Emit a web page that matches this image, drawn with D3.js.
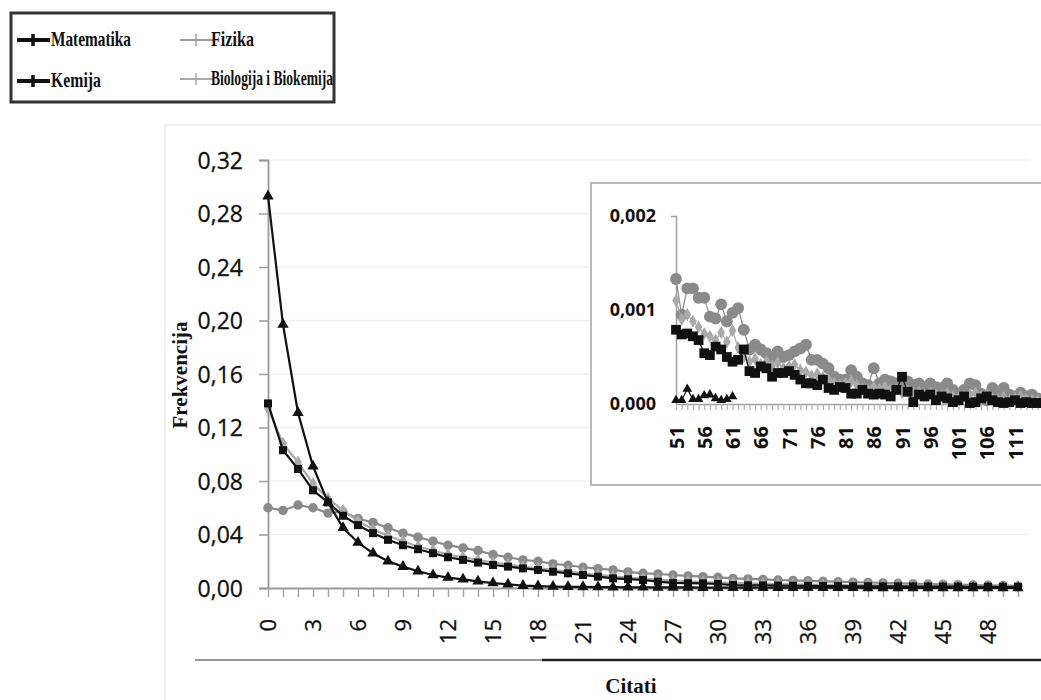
<!DOCTYPE html>
<html><head><meta charset="utf-8">
<script src="https://cdn.jsdelivr.net/npm/d3@7"></script>
<style>body{margin:0;background:#fff}svg{display:block}</style>
</head><body>
<svg id="c" width="1041" height="700"></svg>
<script>
// ---------- DATA ----------
const seriesNames = ["Matematika", "Fizika", "Kemija", "Biologija i Biokemija"];

const citations = [0,1,2,3,4,5,6,7,8,9,10,11,12,13,14,15,16,17,18,19,20,21,22,23,24,25,26,27,28,29,30,31,32,33,34,35,36,37,38,39,40,41,42,43,44,45,46,47,48,49,50];

const matematika = [0.293,0.197,0.131,0.091,0.064,0.045,0.034,0.026,0.020,0.016,
  0.0125,0.0097,0.0078,0.0065,0.005,0.0037,0.0028,0.0018,0.0014,0.0011,
  0.0009,0.0008,0.0007,0.0006,0.0005,0.0005,0.0004,0.0004,0.0004,0.0003,
  0.0003,0.0003,0.0003,0.0002,0.0002,0.0002,0.0002,0.0002,0.0002,0.0002,
  0.0001,0.0001,0.0001,0.0001,0.0001,0.0001,0.0001,0.0001,0.0001,0.0001,0.0001];

const fizika = [0.060,0.058,0.062,0.060,0.056,0.057,0.052,0.049,0.045,0.041,
  0.038,0.035,0.032,0.030,0.028,0.025,0.023,0.021,0.020,0.018,
  0.017,0.0155,0.0145,0.0135,0.012,0.011,0.0105,0.0097,0.009,0.0085,
  0.008,0.0072,0.0068,0.0064,0.006,0.0057,0.0054,0.005,0.0047,0.0044,
  0.0041,0.0038,0.0035,0.0032,0.003,0.0028,0.0025,0.0022,0.002,0.0018,0.0016];

const kemija = [0.138,0.103,0.089,0.073,0.064,0.054,0.047,0.041,0.036,0.032,
  0.029,0.026,0.023,0.021,0.019,0.0172,0.016,0.0147,0.0135,0.0122,
  0.011,0.0097,0.0085,0.0072,0.0066,0.006,0.0048,0.0038,0.0036,0.0035,
  0.003,0.0022,0.002,0.0019,0.0018,0.0017,0.0016,0.0015,0.0014,0.0013,
  0.0013,0.0012,0.0012,0.0011,0.0011,0.001,0.001,0.0009,0.0009,0.0008,0.0008];

const biologija = [0.134,0.108,0.094,0.078,0.067,0.058,0.050,0.044,0.039,0.035,
  0.031,0.028,0.025,0.023,0.021,0.019,0.0175,0.016,0.0148,0.0135,
  0.0122,0.011,0.0098,0.0087,0.0078,0.007,0.0063,0.0056,0.005,0.0045,
  0.0041,0.0038,0.0035,0.0032,0.003,0.0028,0.0026,0.0024,0.0023,0.0022,
  0.0021,0.002,0.0019,0.0018,0.0017,0.0016,0.0015,0.0014,0.0013,0.0012,0.0012];

const yTickValues = [0,0.04,0.08,0.12,0.16,0.20,0.24,0.28,0.32];
const yTickLabels = ["0,00","0,04","0,08","0,12","0,16","0,20","0,24","0,28","0,32"];
const xTickLabels = [0,3,6,9,12,15,18,21,24,27,30,33,36,39,42,45,48];

// inset (tail 51 - 116)
const insetCitations = [51,52,53,54,55,56,57,58,59,60,61,62,63,64,65,66,67,68,69,70,
  71,72,73,74,75,76,77,78,79,80,81,82,83,84,85,86,87,88,89,90,
  91,92,93,94,95,96,97,98,99,100,101,102,103,104,105,106,107,108,109,110,
  111,112,113,114,115,116];

const insetMatematika = [0.00004,0.00004,0.00016,0.00005,0.00005,0.00009,0.00010,0.00006,0.00004,0.00005,0.00008];

const insetFizika = [0.00133,0.00095,0.00123,0.00123,0.00113,0.00113,0.00093,0.00091,0.00106,0.00088,
  0.00097,0.00102,0.00079,0.00058,0.00063,0.00058,0.00054,0.00050,0.00056,0.00050,
  0.00052,0.00056,0.00059,0.00063,0.00047,0.00047,0.00043,0.00038,0.00029,0.00026,
  0.00026,0.00036,0.00029,0.00022,0.00020,0.00038,0.00022,0.00026,0.00024,0.00022,
  0.00018,0.00024,0.00020,0.00022,0.00018,0.00022,0.00018,0.00017,0.00022,0.00015,
  0.00011,0.00015,0.00022,0.00020,0.00011,0.00004,0.00017,0.00011,0.00017,0.00010,
  0.00008,0.00012,0.00008,0.00010,0.00006,0.00005];

const insetKemija = [0.00079,0.00074,0.00075,0.00072,0.00068,0.00054,0.00052,0.00061,0.00058,0.00050,
  0.00045,0.00047,0.00058,0.00035,0.00033,0.00040,0.00038,0.00029,0.00033,0.00033,
  0.00035,0.00031,0.00026,0.00022,0.00022,0.00020,0.00026,0.00017,0.00015,0.00018,
  0.00017,0.00011,0.00011,0.00015,0.00011,0.00010,0.00011,0.00010,0.00008,0.00015,
  0.00029,0.00013,0.00002,0.00010,0.00008,0.00010,0.00004,0.00008,0.00006,0.00002,
  0.00004,0.00008,0.00001,0.00002,0.00006,0.00008,0.00004,0.00002,0.00001,0.00002,
  0.00004,0.00001,0.00002,0.00001,0.00001,0.00001];

const insetBiologija = [0.00110,0.00090,0.00095,0.00088,0.00082,0.00075,0.00072,0.00068,0.00076,0.00066,
  0.00078,0.00060,0.00050,0.00045,0.00048,0.00042,0.00045,0.00040,0.00044,0.00038,
  0.00040,0.00042,0.00036,0.00034,0.00030,0.00032,0.00028,0.00026,0.00022,0.00020,
  0.00022,0.00024,0.00020,0.00016,0.00015,0.00018,0.00016,0.00018,0.00015,0.00016,
  0.00012,0.00014,0.00012,0.00013,0.00010,0.00012,0.00010,0.00009,0.00011,0.00008,
  0.00006,0.00008,0.00010,0.00012,0.00008,0.00010,0.00006,0.00005,0.00007,0.00004,
  0.00006,0.00008,0.00005,0.00004,0.00003,0.00002];

const insetYTickValues = [0,0.001,0.002];
const insetYTickLabels = ["0,000","0,001","0,002"];
const insetXTickLabels = [51,56,61,66,71,76,81,86,91,96,101,106,111];

// ---------- DRAW ----------
const svg = d3.select("#c");
const sans = "'Open Sans', 'DejaVu Sans', sans-serif";
const serif = "'Liberation Serif', 'Times New Roman', serif";

const styles = {
  "Matematika": {color:"#111", symbol:d3.symbolTriangle, size:56, isize:40, fill:"#111"},
  "Fizika": {color:"#8a8a8a", symbol:d3.symbolCircle, size:70, isize:110, fill:"#8a8a8a"},
  "Kemija": {color:"#111", symbol:d3.symbolSquare, size:64, isize:95, fill:"#111"},
  "Biologija i Biokemija": {color:"#a9a9a9", symbol:d3.symbolDiamond, size:52, isize:50, fill:"#a9a9a9"}
};

// faint outer frame
svg.append("line").attr("x1",165).attr("x2",165).attr("y1",125).attr("y2",700).attr("stroke","#ededed").attr("stroke-width",1.5);
svg.append("line").attr("x1",165).attr("x2",1041).attr("y1",125).attr("y2",125).attr("stroke","#ededed").attr("stroke-width",1.5);

// main scales
const x = d3.scalePoint().domain(citations).range([268, 1018]);
const y = d3.scaleLinear().domain([0, 0.32]).range([588, 160]);

// gridlines
svg.append("g").selectAll("line").data(yTickValues.slice(1)).join("line")
  .attr("x1", 270).attr("x2", 1030)
  .attr("y1", d => y(d)).attr("y2", d => y(d))
  .attr("stroke", "#f1f1f1").attr("stroke-width", 1.5);

// y axis
const yAxis = svg.append("g").attr("transform","translate(268,0)")
  .call(d3.axisLeft(y).tickValues(yTickValues).tickSize(9).tickPadding(16)
    .tickFormat((d,i) => yTickLabels[i]));
yAxis.select(".domain").attr("stroke","#9a9a9a").attr("stroke-width",1.8);
yAxis.selectAll(".tick line").attr("stroke","#9a9a9a").attr("stroke-width",1.5);
yAxis.selectAll("text").attr("font-family", sans).attr("font-size", 23).attr("fill","#111")
  .attr("stroke","#111").attr("stroke-width",0.3)
  .attr("dy","0.35em");

// x axis
const xAxis = svg.append("g").attr("transform","translate(0,588)")
  .call(d3.axisBottom(x).tickSize(9).tickSizeOuter(0)
    .tickFormat(d => xTickLabels.includes(d) ? String(d) : ""));
xAxis.select(".domain").attr("stroke","#9a9a9a").attr("stroke-width",1.8)
  .attr("d", "M" + x(0) + ",0.5H1022");
xAxis.selectAll(".tick line").attr("stroke","#a5a5a5").attr("stroke-width",1.5);
xAxis.selectAll("text").attr("font-family", sans).attr("font-size", 22).attr("fill","#111")
  .attr("stroke","#111").attr("stroke-width",0.3)
  .attr("transform","rotate(-90)").attr("text-anchor","end")
  .attr("x", -31).attr("y", 0).attr("dy","0.36em");

// series
const mainSeries = [
  {name:"Fizika", values:fizika},
  {name:"Biologija i Biokemija", values:biologija},
  {name:"Kemija", values:kemija},
  {name:"Matematika", values:matematika}
];
const line = d3.line().x((d,i) => x(citations[i])).y(d => y(d));
mainSeries.forEach(s => {
  const st = styles[s.name];
  svg.append("path").datum(s.values).attr("d", line)
    .attr("fill","none").attr("stroke", st.color).attr("stroke-width", 2.2);
  svg.append("g").selectAll("path").data(s.values).join("path")
    .attr("transform", (d,i) => `translate(${x(citations[i])},${y(d)})`)
    .attr("d", d3.symbol().type(st.symbol).size(st.size))
    .attr("fill", st.fill);
});

// bottom separator line
svg.append("line").attr("x1",195).attr("x2",542).attr("y1",660).attr("y2",660).attr("stroke","#9a9a9a").attr("stroke-width",2);
svg.append("line").attr("x1",542).attr("x2",1041).attr("y1",660).attr("y2",660).attr("stroke","#222").attr("stroke-width",2.5);

// axis titles
svg.append("text").attr("x", 631).attr("y", 693).attr("text-anchor","middle")
  .attr("font-family", serif).attr("font-weight","bold").attr("font-size", 21).attr("fill","#111")
  .text("Citati");
svg.append("text").attr("transform","translate(187,375) rotate(-90)").attr("text-anchor","middle")
  .attr("font-family", serif).attr("font-weight","bold").attr("font-size", 21).attr("fill","#111")
  .text("Frekvencija");

// ---------- INSET ----------
svg.append("rect").attr("x",591).attr("y",183).attr("width",460).attr("height",302)
  .attr("fill","#fff").attr("stroke","#b8b8b8").attr("stroke-width",2);

const xi = d3.scalePoint().domain(insetCitations).range([676, 676 + 65*5.65]);
const yi = d3.scaleLinear().domain([0, 0.002]).range([404, 216]);

const yiAxis = svg.append("g").attr("transform","translate(676,0)")
  .call(d3.axisLeft(yi).tickValues(insetYTickValues).tickSize(0).tickPadding(20)
    .tickFormat((d,i) => insetYTickLabels[i]));
yiAxis.select(".domain").attr("stroke","#a0a0a0").attr("stroke-width",1.5).attr("d","M-5,216.5H0.5V404");
yiAxis.selectAll("text").attr("font-family", sans).attr("font-weight","bold").attr("font-size", 18).attr("fill","#111");

const xiAxis = svg.append("g").attr("transform","translate(0,404)")
  .call(d3.axisBottom(xi).tickSize(6).tickSizeOuter(0)
    .tickFormat(d => insetXTickLabels.includes(d) ? String(d) : ""));
xiAxis.select(".domain").attr("stroke","#a0a0a0").attr("stroke-width",1.5)
  .attr("d","M676,0.5H1041");
xiAxis.selectAll(".tick line").attr("stroke","#b0b0b0").attr("stroke-width",1.2);
xiAxis.selectAll("text").attr("font-family", sans).attr("font-weight","bold").attr("font-size", 20).attr("fill","#111")
  .attr("transform","rotate(-90)").attr("text-anchor","end")
  .attr("x", -22).attr("y", 0).attr("dy","0.36em");

const insetSeries = [
  {name:"Fizika", values:insetFizika},
  {name:"Biologija i Biokemija", values:insetBiologija},
  {name:"Kemija", values:insetKemija},
  {name:"Matematika", values:insetMatematika}
];
const iline = d3.line().x((d,i) => xi(insetCitations[i])).y(d => yi(d));
insetSeries.forEach(s => {
  const st = styles[s.name];
  svg.append("path").datum(s.values).attr("d", iline)
    .attr("fill","none").attr("stroke", st.color).attr("stroke-width", 1.2);
  svg.append("g").selectAll("path").data(s.values).join("path")
    .attr("transform", (d,i) => `translate(${xi(insetCitations[i])},${yi(d)})`)
    .attr("d", d3.symbol().type(st.symbol).size(st.isize))
    .attr("fill", st.fill);
});

// ---------- LEGEND ----------
const legend = svg.append("g");
legend.append("rect").attr("x",11).attr("y",13).attr("width",323).attr("height",89)
  .attr("fill","#fff").attr("stroke","#333").attr("stroke-width",3);
const legendPos = {
  "Matematika": {lx:17, tx:51, y:40, w:80, lw:4, stroke:"#111"},
  "Fizika": {lx:180, tx:211, y:40, w:43, lw:2, stroke:"#9a9a9a"},
  "Kemija": {lx:17, tx:51, y:81, w:50, lw:4, stroke:"#111"},
  "Biologija i Biokemija": {lx:180, tx:211, y:79, w:122, lw:2, stroke:"#a9a9a9"}
};
seriesNames.forEach(n => {
  const p = legendPos[n];
  legend.append("line").attr("x1",p.lx).attr("x2",p.lx+33).attr("y1",p.y).attr("y2",p.y)
    .attr("stroke",p.stroke).attr("stroke-width",p.lw);
  legend.append("line").attr("x1",p.lx+16).attr("x2",p.lx+16).attr("y1",p.y-6).attr("y2",p.y+6)
    .attr("stroke",p.stroke).attr("stroke-width",p.lw-0.5);
  legend.append("text").attr("x",p.tx).attr("y",p.y+6)
    .attr("font-family", serif).attr("font-weight","bold").attr("font-size",21).attr("fill","#111")
    .attr("textLength", p.w).attr("lengthAdjust","spacingAndGlyphs")
    .text(n);
});
</script>
</body></html>
